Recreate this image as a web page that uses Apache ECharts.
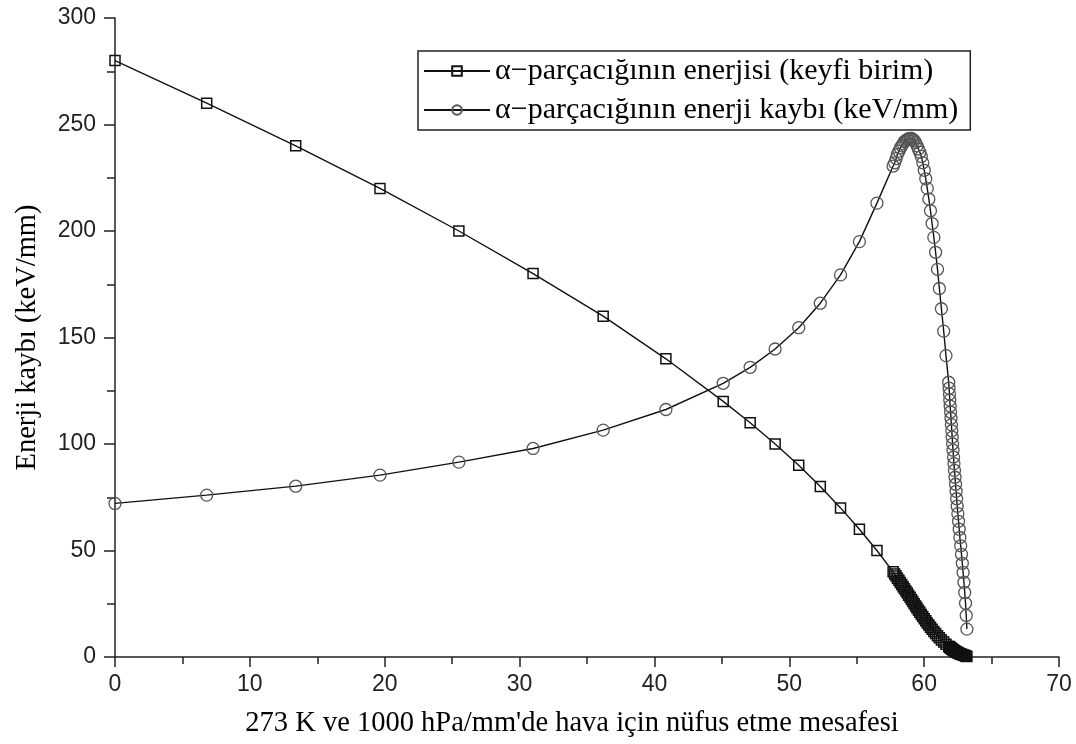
<!DOCTYPE html>
<html>
<head>
<meta charset="utf-8">
<script src="https://cdn.jsdelivr.net/npm/echarts@6/dist/echarts.min.js"></script>
<style>
html,body{margin:0;padding:0;background:#fff;}
#chart{width:1076px;height:744px;}
</style>
</head>
<body>
<div id="chart"></div>
<script>
// Penetration distance (mm) shared by both curves
const distance = [0, 6.8, 13.4, 19.65, 25.5, 31.0, 36.2, 40.85, 45.1, 47.1, 48.95, 50.7, 52.3, 53.8, 55.2, 56.5, 57.7,
  57.81, 57.92, 58.02, 58.13, 58.23, 58.34, 58.44, 58.54, 58.65, 58.75, 58.85, 58.96, 59.06, 59.16, 59.26, 59.37, 59.47, 59.58, 59.68, 59.79,
  59.90, 60.01, 60.12, 60.23, 60.35, 60.47, 60.59, 60.72, 60.85, 60.99, 61.13, 61.28, 61.45, 61.62, 61.82,
  61.85, 61.88, 61.90, 61.93, 61.96, 61.99, 62.02, 62.05, 62.08, 62.11, 62.14, 62.18, 62.21, 62.25, 62.29, 62.33,
  62.37, 62.41, 62.45, 62.50, 62.55, 62.60, 62.65, 62.71, 62.77, 62.83, 62.89, 62.95, 63.01, 63.07, 63.12, 63.17];

// alpha-particle energy (arbitrary units)
const energy = [280, 260, 240, 220, 200, 180, 160, 140, 120, 110, 100, 90, 80, 70, 60, 50, 40,
  39, 38, 37, 36, 35, 34, 33, 32, 31, 30, 29, 28, 27, 26, 25, 24, 23, 22, 21, 20,
  19, 18, 17, 16, 15, 14, 13, 12, 11, 10, 9, 8, 7, 6, 5,
  4.85, 4.7, 4.55, 4.4, 4.25, 4.1, 3.95, 3.8, 3.65, 3.5, 3.35, 3.2, 3.05, 2.9, 2.75, 2.6,
  2.45, 2.3, 2.15, 2.0, 1.85, 1.7, 1.55, 1.4, 1.25, 1.1, 0.95, 0.8, 0.65, 0.5, 0.35, 0.2];

// alpha-particle energy loss (keV/mm)
const energyLoss = [72.1, 76.0, 80.2, 85.4, 91.5, 97.9, 106.5, 116.2, 128.5, 136.0, 144.6, 154.6, 166.1, 179.4, 195.0, 213.1, 230.5,
  232, 234, 236, 237.5, 239, 240, 241, 242, 242.5, 243, 243.3, 243.5, 243.5, 243, 242.5, 241.5, 240, 238.5, 237, 235,
  232, 228.5, 224.5, 220, 215, 209.5, 203.5, 197, 190, 182, 173, 163.5, 153, 141.5, 129,
  126.2, 123.5, 120.6, 117.8, 115.0, 112.1, 109.1, 106.2, 103.2, 100.1, 97.1, 93.9, 90.8, 87.6, 84.4, 81.1,
  77.8, 74.3, 70.8, 67.3, 63.7, 60.0, 56.1, 52.2, 48.2, 44.0, 39.7, 35.1, 30.3, 25.2, 19.5, 13.1];

const seriesNames = ['α−parçacığının enerjisi (keyfi birim)', 'α−parçacığının enerji kaybı (keV/mm)'];
const xTitle = "273 K ve 1000 hPa/mm'de hava için nüfus etme mesafesi";
const yTitle = 'Enerji kaybı (keV/mm)';

const energyData = distance.map((d, i) => [d, energy[i]]);
const lossData = distance.map((d, i) => [d, energyLoss[i]]);

const chart = echarts.init(document.getElementById('chart'), null, {renderer: 'canvas'});
const serif = '"Liberation Serif", "Times New Roman", serif';
const sans = '"Liberation Sans", Arial, sans-serif';

chart.setOption({
  animation: false,
  backgroundColor: '#ffffff',
  grid: {left: 115, right: 17, top: 18, bottom: 87, containLabel: false},
  legend: {
    orient: 'vertical',
    left: 418,
    top: 51,
    padding: [5, 12, 5, 5],
    itemGap: 9,
    itemWidth: 66,
    itemHeight: 12,
    borderColor: '#222',
    borderWidth: 1.5,
    backgroundColor: '#fff',
    textStyle: {fontFamily: serif, fontSize: 30, color: '#000'},
    data: seriesNames
  },
  xAxis: {
    type: 'value',
    min: 0, max: 70, interval: 10,
    name: xTitle,
    nameLocation: 'middle',
    nameGap: 52,
    nameTextStyle: {fontFamily: serif, fontSize: 28.5, color: '#000', padding: [0, 30, 0, 0]},
    axisLine: {show: true, lineStyle: {color: '#222', width: 1.5}},
    axisTick: {show: true, inside: false, length: 10, lineStyle: {color: '#222', width: 1.5}},
    minorTick: {show: true, splitNumber: 2, length: 7, lineStyle: {color: '#222', width: 1.5}},
    axisLabel: {fontFamily: sans, fontSize: 23, color: '#222', margin: 16},
    splitLine: {show: false}
  },
  yAxis: {
    type: 'value',
    min: 0, max: 300, interval: 50,
    name: yTitle,
    nameLocation: 'middle',
    nameGap: 73,
    nameRotate: 90,
    nameTextStyle: {fontFamily: serif, fontSize: 28.5, color: '#000'},
    axisLine: {show: true, lineStyle: {color: '#222', width: 1.5}},
    axisTick: {show: true, inside: false, length: 11, lineStyle: {color: '#222', width: 1.5}},
    minorTick: {show: true, splitNumber: 2, length: 8, lineStyle: {color: '#222', width: 1.5}},
    axisLabel: {fontFamily: sans, fontSize: 23, color: '#222', margin: 19},
    splitLine: {show: false}
  },
  series: [
    {
      name: seriesNames[0],
      type: 'line',
      data: energyData,
      symbol: 'rect',
      symbolSize: 10,
      showAllSymbol: true,
      lineStyle: {color: '#111', width: 1.4},
      itemStyle: {color: 'rgba(255,255,255,0)', borderColor: '#111', borderWidth: 1.5},
      z: 3
    },
    {
      name: seriesNames[1],
      type: 'line',
      data: lossData,
      symbol: 'circle',
      symbolSize: 12,
      showAllSymbol: true,
      lineStyle: {color: '#111', width: 1.4},
      itemStyle: {color: 'rgba(255,255,255,0)', borderColor: '#555', borderWidth: 1.3},
      z: 2
    }
  ]
});
</script>
</body>
</html>
